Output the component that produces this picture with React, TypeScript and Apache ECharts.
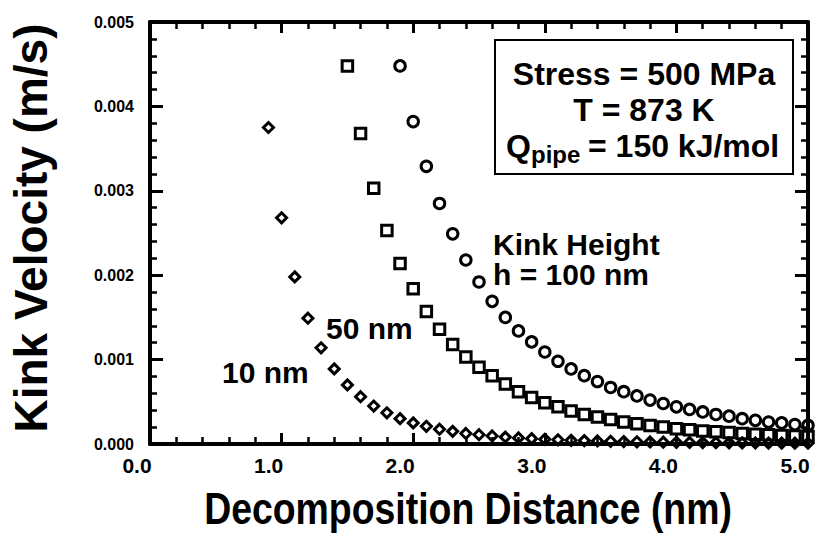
import React, { useEffect, useRef } from "react";
import * as echarts from "echarts";

// Decomposition distance (nm), step 0.1 nm
const distances = [
  0.9, 1.0, 1.1, 1.2, 1.3, 1.4, 1.5, 1.6, 1.7, 1.8, 1.9, 2.0, 2.1, 2.2, 2.3, 2.4,
  2.5, 2.6, 2.7, 2.8, 2.9, 3.0, 3.1, 3.2, 3.3, 3.4, 3.5, 3.6, 3.7, 3.8, 3.9, 4.0,
  4.1, 4.2, 4.3, 4.4, 4.5, 4.6, 4.7, 4.8, 4.9, 5.0,
];

// Kink velocity (m/s), h = 10 nm (diamonds), starts at 0.9 nm
const v10nm = [
  0.00375, 0.00268, 0.00198, 0.00149, 0.00114, 0.00089, 0.0007, 0.00056, 0.00045,
  0.00037, 0.0003, 0.00025, 0.00021, 0.000175, 0.00015, 0.000125, 0.00011, 0.000095,
  0.000082, 0.000072, 0.000063, 0.000056, 0.00005, 0.000044, 0.00004, 0.000036,
  0.000032, 0.000029, 0.000026, 0.000024, 0.000022, 0.00002, 0.000018, 0.000017,
  0.000015, 0.000014, 0.000013, 0.000012, 0.000011, 0.000011, 0.00001, 0.0000095,
];

// h = 50 nm (squares), starts at 1.5 nm
const v50nm = [
  0.00448, 0.00368, 0.00303, 0.00253, 0.00214, 0.00184, 0.00157, 0.00136, 0.00118,
  0.00103, 0.00091, 0.00081, 0.00071, 0.00062, 0.00055, 0.00049, 0.00044, 0.00039,
  0.00035, 0.00032, 0.00029, 0.00026, 0.00024, 0.00022, 0.0002, 0.00018, 0.00017,
  0.000155, 0.000145, 0.000135, 0.000125, 0.000115, 0.00011, 0.0001, 0.000095, 0.00009,
];

// h = 100 nm (circles), starts at 1.9 nm
const v100nm = [
  0.00448, 0.00382, 0.00329, 0.00285, 0.00249, 0.00218, 0.00192, 0.00169, 0.0015,
  0.00134, 0.00121, 0.00109, 0.00098, 0.00089, 0.00081, 0.00074, 0.00067, 0.00062,
  0.00057, 0.00052, 0.00048, 0.00044, 0.00041, 0.00038, 0.00035, 0.00033, 0.0003,
  0.00028, 0.00026, 0.00025, 0.00023, 0.00022,
];

const xTickLabels = ["0.0", "1.0", "2.0", "3.0", "4.0", "5.0"];
const yTickLabels = ["0.000", "0.001", "0.002", "0.003", "0.004", "0.005"];

const FONT = "'Liberation Sans', Arial, Helvetica, sans-serif";

function pairs(values: number[]) {
  const offset = distances.length - values.length;
  return values.map((v, i) => [distances[offset + i], v]);
}

function frame(majorLen: number) {
  return {
    axisLine: { show: true, onZero: false, lineStyle: { color: "#000", width: 4 } },
    axisTick: { show: true, inside: true, length: majorLen, lineStyle: { color: "#000", width: 3 } },
    minorTick: { show: true, splitNumber: 5, length: 7, lineStyle: { color: "#000", width: 2.5 } },
    splitLine: { show: false },
  };
}

function label(text: string, x: number, y: number, size: number, align = "left") {
  return {
    type: "text",
    x,
    y,
    z: 10,
    style: {
      text,
      fontFamily: FONT,
      fontWeight: "bold",
      fontSize: size,
      fill: "#000",
      align,
      verticalAlign: "middle",
    },
  };
}

export default function App() {
  const ref = useRef<HTMLDivElement>(null);

  useEffect(() => {
    if (!ref.current) return;
    const chart = echarts.init(ref.current, undefined, { renderer: "svg" });

    chart.setOption({
      animation: false,
      grid: { left: 139, right: 19, top: 22, bottom: 90 },
      xAxis: [
        {
          type: "value",
          min: 0,
          max: 5,
          interval: 1,
          position: "bottom",
          ...frame(11),
          axisLabel: {
            color: "#000",
            fontFamily: FONT,
            fontWeight: "bold",
            fontSize: 21,
            margin: 11,
            padding: [0, 26, 0, 0],
            formatter: (v: number) => xTickLabels[Math.round(v)],
          },
        },
        {
          type: "value",
          min: 0,
          max: 5,
          interval: 1,
          position: "top",
          ...frame(11),
          axisLabel: { show: false },
        },
      ],
      yAxis: [
        {
          type: "value",
          min: 0,
          max: 0.005,
          interval: 0.001,
          position: "left",
          ...frame(13),
          axisLabel: {
            color: "#000",
            fontFamily: FONT,
            fontWeight: "bold",
            fontSize: 16,
            margin: 16,
            padding: [0, 0, 6, 0],
            formatter: (v: number) => yTickLabels[Math.round(v * 1000)],
          },
          name: "Kink Velocity (m/s)",
          nameLocation: "middle",
          nameGap: 96,
          nameTextStyle: {
            color: "#000",
            fontFamily: FONT,
            fontWeight: "bold",
            fontSize: 46,
            padding: [0, 0, 0, 10],
          },
        },
        {
          type: "value",
          min: 0,
          max: 0.005,
          interval: 0.001,
          position: "right",
          ...frame(13),
          axisLabel: { show: false },
        },
      ],
      series: [
        {
          name: "10 nm",
          type: "scatter",
          symbol: "diamond",
          symbolSize: [10, 10],
          itemStyle: { color: "transparent", borderColor: "#000", borderWidth: 3, opacity: 1 },
          data: pairs(v10nm),
        },
        {
          name: "50 nm",
          type: "scatter",
          symbol: "rect",
          symbolSize: 10.5,
          itemStyle: { color: "transparent", borderColor: "#000", borderWidth: 3, opacity: 1 },
          data: pairs(v50nm),
        },
        {
          name: "100 nm",
          type: "scatter",
          symbol: "circle",
          symbolSize: 10.5,
          itemStyle: { color: "transparent", borderColor: "#000", borderWidth: 3, opacity: 1 },
          data: pairs(v100nm),
        },
      ],
      graphic: [
        {
          type: "rect",
          shape: { x: 495, y: 40, width: 298, height: 134 },
          style: { fill: "#fff", stroke: "#000", lineWidth: 2 },
        },
        label("Stress = 500 MPa", 644, 74, 32, "center"),
        label("T = 873 K", 644, 110, 32, "center"),
        label("Q", 506, 146, 32),
        label("pipe", 531, 154, 24),
        label("= 150 kJ/mol", 588, 146, 32),
        label("Kink Height", 493, 244, 30),
        label("h = 100 nm", 493, 274, 30),
        label("50 nm", 326, 328, 30),
        label("10 nm", 222, 372, 30),
        {
          type: "text",
          x: 468,
          y: 509,
          scaleX: 0.85,
          style: {
            text: "Decomposition Distance (nm)",
            fontFamily: FONT,
            fontWeight: "bold",
            fontSize: 44,
            fill: "#000",
            align: "center",
            verticalAlign: "middle",
          },
        },
      ],
    });

    return () => chart.dispose();
  }, []);

  return (
    <div
      ref={ref}
      style={{ position: "fixed", left: 0, top: 0, width: 827, height: 534, background: "#fff" }}
    />
  );
}
